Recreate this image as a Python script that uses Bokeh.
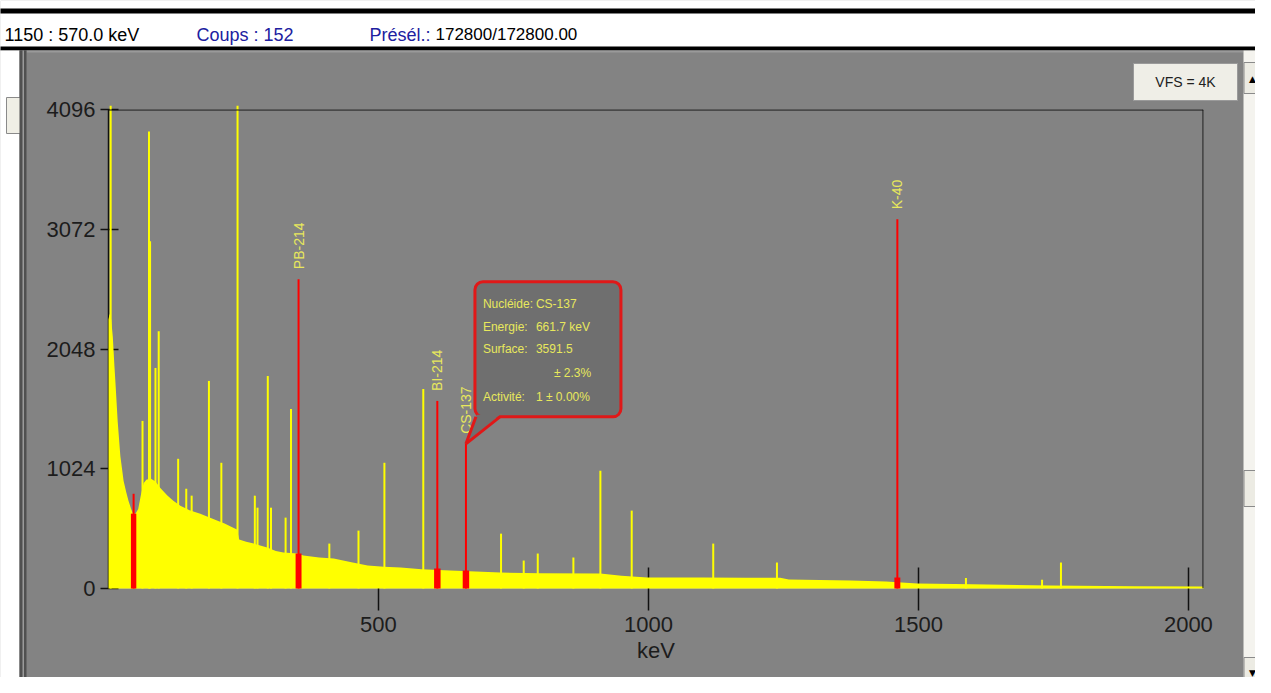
import math
from bokeh.plotting import figure
from bokeh.models import BoxAnnotation, Label, Span, FixedTicker, Range1d
from bokeh.core.properties import value
from bokeh.embed import file_html
from bokeh.resources import INLINE

# ---------------- data ----------------
cont_kev = [0, 2, 5, 8, 11, 13, 17, 22, 28, 33, 37, 42, 45, 50, 55, 60, 65, 70, 78, 87,
            96, 109, 120, 133, 150, 170, 186, 202, 215, 231, 238, 242, 255, 269, 294, 310,
            324, 350, 361, 390, 417, 450, 480, 510, 541, 580, 633, 680, 726, 800, 911, 950,
            998, 1100, 1180, 1244, 1260, 1374, 1440, 1498, 1600, 1744, 1900, 2028]
cont_counts = [2300, 2350, 2300, 2150, 1900, 1750, 1430, 1130, 920, 820, 750, 680, 645, 640,
               680, 800, 900, 930, 940, 915, 860, 795, 750, 708, 670, 640, 610, 580, 555, 520,
               505, 420, 400, 384, 350, 320, 307, 299, 282, 265, 256, 225, 196, 185, 179, 165,
               154, 145, 137, 130, 128, 110, 94, 94, 92, 92, 77, 68, 60, 43, 36, 26, 20, 17]

peak_kev = [4, 63, 75, 77, 87, 93, 129, 144, 154, 186, 209, 239, 271, 276, 295, 301, 328,
            338, 409, 463, 511, 583, 727, 769, 795, 861, 911, 969, 1120, 1238, 1588, 1729, 1764]
peak_counts = [4300, 1433, 3908, 2970, 1886, 2200, 1109, 853, 794, 1775, 1075, 4300, 794, 691,
               1817, 691, 606, 1536, 384, 495, 1075, 1706, 469, 239, 299, 265, 1007, 666, 384,
               222, 90, 75, 222]

roi_kev = [46.5, 352, 609, 662, 1461]
roi_top = [810, 2645, 1604, 1237, 3157]
roi_base = [640, 299, 171, 154, 94]
roi_width = [10, 11, 12, 12, 11]
roi_label = ["", "PB-214", "BI-214", "CS-137", "K-40"]

x_ticks = [500, 1000, 1500, 2000]
y_ticks = [0, 1024, 2048, 3072, 4096]
x_max = 2028
y_max = 4096

header_pos = "1150 : 570.0 keV"
header_counts = "Coups : 152"
header_presel_label = "Présél.:"
header_presel = "172800/172800.00"
vfs_text = "VFS = 4K"
info_keys = ["Nucléide:", "Energie:", "Surface:", "", "Activité:"]
info_vals = ["CS-137", "661.7 keV", "3591.5", "± 2.3%", "1 ± 0.00%"]

# ---------------- style ----------------
GRAY = "#838383"
YEL = "#ffff00"
RED = "#ff0000"
TXT_YEL = "#e8e85c"
FONT = "Liberation Sans"
BLUE = "#2020a0"

W, H = 1255, 677
BL, BR, BT, BB = 108, 52, 109, 89
FW, FH = W - BL - BR, H - BT - BB

p = figure(width=W, height=H, x_range=Range1d(0, x_max), y_range=Range1d(0, y_max),
           output_backend="svg", toolbar_location=None, title=None,
           min_border_left=BL, min_border_right=BR, min_border_top=BT, min_border_bottom=BB,
           background_fill_color=GRAY, border_fill_color=GRAY, outline_line_color=None)
p.grid.visible = False

# pixel ranges for the window chrome (y downwards), mapped onto the same frame
p.extra_x_ranges = {"px": Range1d(BL, BL + FW)}
p.extra_y_ranges = {"px": Range1d(BT + FH, BT)}
CH = dict(x_range_name="px", y_range_name="px", level="guide")


def rect(x0, y0, x1, y1, color, line=None):
    p.quad(left=[x0], right=[x1], top=[y0], bottom=[y1], fill_color=color,
           line_color=line, line_width=1, **CH)


def txt(x, y, t, size, color, font=FONT, align="left", base="middle"):
    p.text(x=[x], y=[y], text=[t], text_font=value(font), text_font_size=size,
           text_color=color, text_align=align, text_baseline=base, **CH)


# header bar
rect(0, 0, W, 50, "#ffffff")
rect(0, 8, W, 13, "#000000")
rect(0, 46, W, 50, "#000000")
txt(4, 34, header_pos, "18px", "#000000")
txt(196, 34, header_counts, "18px", BLUE)
txt(369, 34, header_presel_label, "18px", BLUE)
txt(435, 34, header_presel, "17px", "#000000")
# panel top edge
rect(26, 50, 1243, 52, "#9a9a9a")
# left strip
rect(0, 50, 19, H, "#ffffff")
rect(6, 97, 20, 133, "#f0efe6", line="#8a8a8a")
rect(19, 50, 26, H, "#505050")
rect(22, 50, 23.5, H, "#9a9a9a")
# VFS button
rect(1133, 63, 1237, 100, "#efeee7", line="#9a9a9a")
txt(1185, 81, vfs_text, "14px", "#202020", align="center")
# right scrollbar
rect(1243, 50, W, H, "#f4f3ee")
rect(1243.5, 62, 1263, 93, "#ecebe3", line="#8a8a8a")
rect(1243.5, 470, 1263, 506, "#ecebe3", line="#8a8a8a")
rect(1243.5, 657, 1263, 688, "#ecebe3", line="#8a8a8a")
txt(1252, 78, "▲", "9px", "#000000", font="DejaVu Sans", align="center")
txt(1252, 672, "▼", "9px", "#000000", font="DejaVu Sans", align="center")

# ---------------- spectrum ----------------
# peaks above full scale are drawn only slightly past the frame, as in the original
y_clip = y_max * 1.008
peak_draw = [min(c, y_clip) for c in peak_counts]

LV = "annotation"  # drawn above the tick marks, like the original
p.varea(x=cont_kev, y1=[0] * len(cont_kev), y2=cont_counts, fill_color=YEL, level=LV)
p.segment(x0=peak_kev, y0=[0] * len(peak_kev), x1=peak_kev, y1=peak_draw,
          line_color=YEL, line_width=2, level=LV)
p.quad(left=[e - w / 2 for e, w in zip(roi_kev, roi_width)],
       right=[e + w / 2 for e, w in zip(roi_kev, roi_width)],
       bottom=[0] * len(roi_kev), top=roi_base, fill_color=RED, line_color=None, level=LV)
p.segment(x0=roi_kev, y0=[0] * len(roi_kev), x1=roi_kev, y1=roi_top,
          line_color=RED, line_width=2, level=LV)

for e, t, lab in zip(roi_kev, roi_top, roi_label):
    if lab:
        p.add_layout(Label(x=e, y=t, y_offset=10, text=lab, angle=math.pi / 2,
                           text_align="left", text_baseline="middle",
                           text_font=FONT, text_font_size="14px", text_color=TXT_YEL))

p.add_layout(Span(location=y_max, dimension="width", line_color="#111111", line_width=2))
p.add_layout(Span(location=x_max, dimension="height", line_color="#111111", line_width=2))

xa, ya = p.xaxis[0], p.yaxis[0]
xa.ticker = FixedTicker(ticks=x_ticks)
ya.ticker = FixedTicker(ticks=y_ticks)
for a in (xa, ya):
    a.major_label_text_font = FONT
    a.major_label_text_font_size = "22px"
    a.major_label_text_color = "#1c1c1c"
    a.major_tick_line_color = "#111111"
    a.major_tick_line_width = 1.5
    a.minor_tick_line_color = None
xa.axis_line_color = None
xa.major_tick_in = 21
xa.major_tick_out = 22
xa.major_label_standoff = 6
xa.axis_label = "keV"
xa.axis_label_text_font = FONT
xa.axis_label_text_font_size = "22px"
xa.axis_label_text_font_style = "normal"
xa.axis_label_text_color = "#1c1c1c"
xa.axis_label_standoff = 3
ya.axis_line_color = "#111111"
ya.axis_line_width = 1.5
ya.major_tick_in = 10
ya.major_tick_out = 8
ya.major_label_standoff = 5

# CS-137 info bubble, anchored on the CS-137 peak top
kx = x_max / FW
ky = y_max / FH
ci = roi_label.index("CS-137")
ax_, ay_ = roi_kev[ci], roi_top[ci]


def dx(px):
    return ax_ + px * kx


def dy(px):
    return ay_ + px * ky


BOXC = "#6f6f6f"
BRED = "#e01818"
p.add_layout(BoxAnnotation(left=dx(9), right=dx(155), bottom=dy(27), top=dy(162),
                           fill_color=BOXC, fill_alpha=1, line_color=BRED, line_width=3,
                           line_alpha=1, border_radius=8, level="annotation"))
p.patch(x=[dx(11), dx(34), dx(0)], y=[dy(29), dy(29), dy(0)], fill_color=BOXC,
        line_color=None, level="overlay")
p.line(x=[dx(10), dx(0), dx(34)], y=[dy(27), dy(0), dy(27)], line_color=BRED,
       line_width=3, level="overlay")
rows = [140, 117, 95, 71, 47]
for k, v, r in zip(info_keys, info_vals, rows):
    if k:
        p.add_layout(Label(x=ax_, y=ay_, x_offset=17, y_offset=r, text=k,
                           text_baseline="middle", text_font=FONT, text_font_size="12px",
                           text_color=TXT_YEL, level="overlay"))
    p.add_layout(Label(x=ax_, y=ay_, x_offset=70 if k else 88, y_offset=r, text=v,
                       text_baseline="middle", text_font=FONT, text_font_size="12px",
                       text_color=TXT_YEL, level="overlay"))

open("out.html", "w").write(file_html(p, INLINE))
